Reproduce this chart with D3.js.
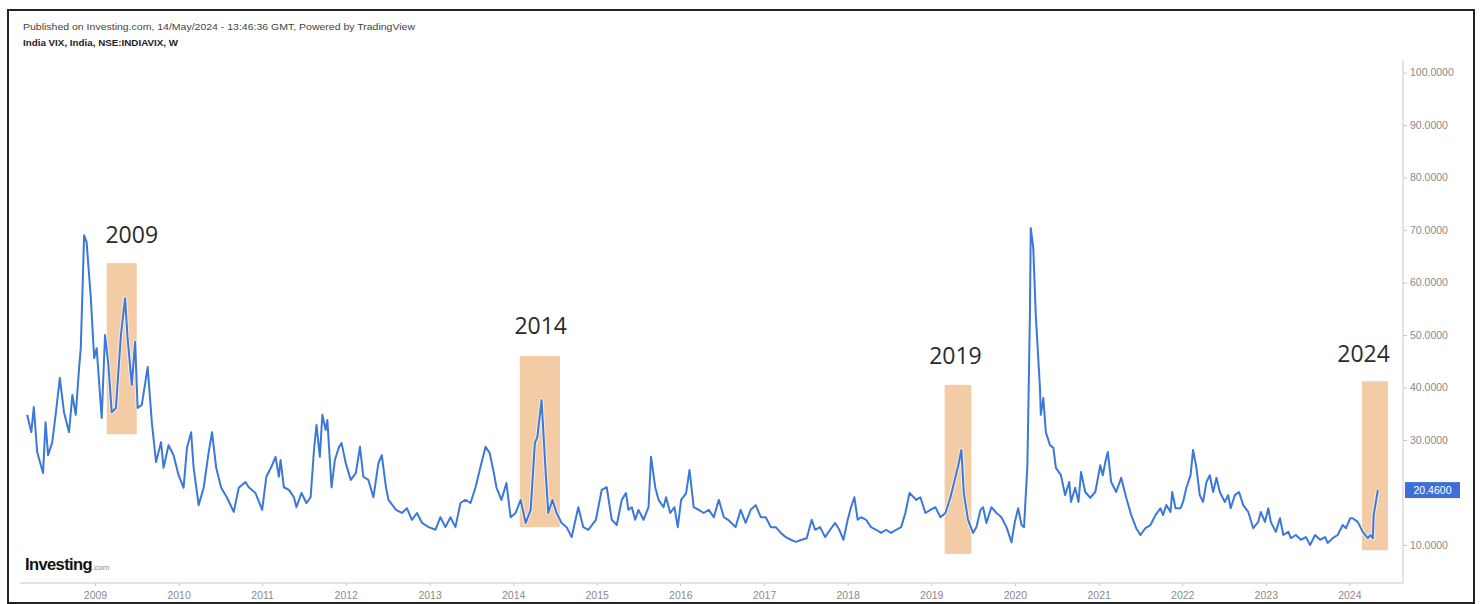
<!DOCTYPE html>
<html>
<head>
<meta charset="utf-8">
<script src="https://cdn.jsdelivr.net/npm/d3@7"></script>
<style>
  html, body { margin: 0; padding: 0; background: #fff; }
  svg { display: block; }
</style>
</head>
<body>
<svg id="chart" width="1480" height="604"></svg>
<script>
// ---------- DATA (weekly India VIX close) ----------
const dates = [
 2008.19,2008.24,2008.27,2008.31,2008.38,2008.41,2008.44,2008.49,2008.53,2008.58,
 2008.63,2008.69,2008.73,2008.77,2008.81,2008.83,2008.87,2008.90,2008.95,2008.99,
 2009.02,2009.08,2009.12,2009.16,2009.20,2009.25,2009.31,2009.36,2009.39,2009.44,
 2009.48,2009.51,2009.56,2009.63,2009.68,2009.73,2009.79,2009.82,2009.88,2009.94,
 2010.00,2010.06,2010.10,2010.15,2010.18,2010.24,2010.30,2010.36,2010.40,2010.45,
 2010.51,2010.58,2010.66,2010.72,2010.80,2010.84,2010.92,
 2011.00,2011.05,2011.11,2011.16,2011.20,2011.22,2011.26,2011.32,2011.38,2011.41,
 2011.47,2011.53,2011.58,2011.62,2011.65,2011.69,2011.72,2011.76,2011.78,2011.83,
 2011.87,2011.92,2011.95,2012.00,2012.06,2012.12,2012.17,2012.21,2012.27,2012.33,
 2012.39,2012.43,2012.48,2012.51,2012.60,2012.67,2012.73,2012.79,2012.85,2012.91,
 2012.99,2013.07,2013.13,2013.19,2013.25,2013.31,2013.37,2013.43,2013.49,2013.55,
 2013.61,2013.67,2013.72,2013.77,2013.80,2013.86,2013.92,2013.97,2014.03,2014.09,
 2014.15,2014.21,2014.26,2014.29,2014.34,2014.39,2014.42,2014.47,2014.52,2014.58,
 2014.64,2014.70,2014.78,2014.84,2014.90,2014.99,2015.06,2015.12,2015.18,2015.24,
 2015.30,2015.35,2015.38,2015.42,2015.46,2015.50,2015.56,2015.62,2015.65,2015.70,
 2015.74,2015.80,2015.83,2015.88,2015.93,2015.97,2016.01,2016.07,2016.11,2016.16,
 2016.22,2016.28,2016.34,2016.40,2016.46,2016.52,2016.57,2016.66,2016.72,2016.78,
 2016.84,2016.90,2016.96,2017.02,2017.08,2017.14,2017.20,2017.26,2017.32,2017.38,
 2017.45,2017.51,2017.57,2017.61,2017.67,2017.73,2017.79,2017.85,2017.90,2017.95,
 2018.00,2018.04,2018.08,2018.12,2018.16,2018.22,2018.28,2018.34,2018.40,2018.46,
 2018.52,2018.58,2018.64,2018.69,2018.74,2018.79,2018.82,2018.87,2018.93,2018.99,
 2019.05,2019.11,2019.17,2019.23,2019.29,2019.32,2019.36,2019.39,2019.44,2019.50,
 2019.54,2019.59,2019.62,2019.66,2019.72,2019.78,2019.84,2019.90,2019.92,2019.96,
 2020.00,2020.04,2020.08,2020.11,2020.15,2020.18,2020.19,2020.22,2020.25,2020.30,
 2020.31,2020.34,2020.37,2020.42,2020.46,2020.49,2020.55,2020.60,2020.65,2020.67,
 2020.72,2020.76,2020.79,2020.84,2020.90,2020.96,2021.02,2021.05,2021.08,2021.11,
 2021.15,2021.21,2021.27,2021.33,2021.39,2021.45,2021.50,2021.56,2021.62,2021.68,
 2021.74,2021.77,2021.81,2021.86,2021.88,2021.92,2021.98,2022.01,2022.05,2022.10,
 2022.13,2022.17,2022.21,2022.25,2022.29,2022.33,2022.37,2022.41,2022.45,2022.51,
 2022.55,2022.58,2022.63,2022.68,2022.73,2022.79,2022.85,2022.91,2022.94,2022.99,
 2023.03,2023.06,2023.12,2023.17,2023.21,2023.27,2023.30,2023.36,2023.42,2023.48,
 2023.53,2023.59,2023.65,2023.71,2023.74,2023.80,2023.86,2023.92,2023.96,2024.01,
 2024.04,2024.10,2024.16,2024.22,2024.25,2024.28,2024.29,2024.34
];
const vix = [
 34.8,31.5,36.3,27.7,23.7,33.4,27.1,29.6,34.8,41.8,
 35.3,31.5,38.6,34.8,43.7,47.5,69.0,67.7,57.0,45.6,
 47.5,34.2,50.0,44.3,35.3,36.1,50.0,57.0,49.4,40.5,
 48.7,36.1,36.7,43.9,33.4,25.8,29.6,24.7,29.0,27.1,
 23.3,20.9,28.5,31.5,24.7,17.6,20.9,27.7,31.5,24.7,
 20.9,19.0,16.3,20.9,22.0,21.0,19.9,
 16.7,23.0,24.9,26.8,23.0,26.2,21.0,20.5,19.1,17.2,
 19.9,18.0,19.1,28.1,32.9,26.8,34.8,31.9,33.8,21.0,
 26.2,28.7,29.4,25.6,22.4,23.7,28.7,23.0,22.4,19.1,
 25.6,27.1,21.0,18.6,16.7,16.1,17.0,14.8,16.1,14.2,
 13.4,12.9,15.3,13.4,15.3,13.4,18.0,18.6,18.0,21.0,
 24.9,28.7,27.5,23.7,21.0,18.6,21.8,15.3,16.1,18.6,
 14.2,16.7,29.4,30.6,37.6,23.7,16.1,18.6,16.1,14.2,
 13.4,11.5,17.2,13.4,12.9,14.8,20.5,21.0,14.8,13.8,
 18.6,19.9,16.7,17.2,14.8,16.7,14.8,17.2,26.8,21.0,
 18.6,17.2,19.1,16.1,17.2,13.4,18.6,19.9,24.3,17.2,
 16.7,16.1,16.7,15.3,18.6,15.3,14.8,13.4,16.7,14.2,
 16.7,17.6,15.3,15.3,13.4,13.4,12.3,11.5,11.0,10.6,
 11.0,11.3,14.8,12.9,13.4,11.5,12.9,14.2,12.9,11.0,
 14.8,17.2,19.1,14.8,15.3,14.8,13.4,12.9,12.3,12.9,
 12.3,12.9,13.4,16.1,19.9,19.1,18.6,19.1,16.1,16.7,
 17.2,15.3,16.1,19.1,23.0,24.9,28.1,19.9,14.8,12.3,
 13.4,16.7,17.2,14.2,17.2,16.1,15.3,13.4,12.5,10.5,
 14.4,17.0,13.8,13.4,25.2,53.8,70.4,66.6,53.8,39.9,
 34.8,38.0,31.5,29.0,28.5,24.7,23.3,19.5,22.0,18.2,
 20.9,18.2,23.9,20.1,19.0,20.1,25.2,23.3,25.8,27.7,
 22.0,20.1,22.8,19.0,15.7,13.2,11.9,13.2,13.8,15.7,
 17.0,15.7,17.6,16.3,20.1,17.0,17.0,18.2,20.9,23.3,
 28.1,24.7,19.5,18.2,22.0,23.3,20.1,22.8,20.1,18.2,
 19.5,17.0,19.5,20.1,17.6,16.3,13.2,14.4,16.3,14.4,
 17.0,14.4,12.5,15.1,11.9,12.5,11.3,11.9,11.0,11.5,
 10.0,11.9,11.0,11.5,10.4,11.3,11.9,13.8,13.2,15.1,
 15.1,14.4,12.5,11.3,11.9,11.3,15.7,20.46
];
const lastValue = 20.46;

// highlighted windows and their labels
const hlNames  = ["2009", "2014", "2019", "2024"];
const hlStart  = [2009.14, 2014.08, 2019.16, 2024.15];
const hlEnd    = [2009.50, 2014.56, 2019.48, 2024.46];
const hlLow    = [31.1, 13.4, 8.3, 9.0];
const hlHigh   = [63.7, 46.0, 40.5, 41.2];
const labelAt  = [2009.44, 2014.33, 2019.29, 2024.17];
const labelVal = [67.5, 50.2, 44.5, 44.9];

const yearTicks = [2009,2010,2011,2012,2013,2014,2015,2016,2017,2018,2019,2020,2021,2022,2023,2024];
// 20.0000 is hidden behind the last-value badge in the reference
const valueTicks = [10,30,40,50,60,70,80,90,100];

const headerLine1 = "Published on Investing.com, 14/May/2024 - 13:46:36 GMT, Powered by TradingView";
const headerLine2 = "India VIX, India, NSE:INDIAVIX, W";

// ---------- helpers ----------
function toDate(y) {
  const yr = Math.floor(y);
  const start = new Date(Date.UTC(yr, 0, 1));
  const end = new Date(Date.UTC(yr + 1, 0, 1));
  return new Date(start.getTime() + (y - yr) * (end - start));
}

const svg = d3.select("#chart");
const W = 1480, H = 604;
const plot = { left: 20, right: 1403, top: 60, bottom: 583 };

const x = d3.scaleUtc()
  .domain([toDate(2008.105), toDate(2024.64)])
  .range([plot.left, plot.right]);
const y = d3.scaleLinear()
  .domain([2.76, 102.4])
  .range([plot.bottom, plot.top]);

const series = dates.map((d, i) => ({ date: toDate(d), v: vix[i] }));

svg.append("rect").attr("x", 0).attr("y", 0).attr("width", W).attr("height", H).attr("fill", "#fff");

// highlight boxes
const hl = hlNames.map((n, i) => ({ n, s: toDate(hlStart[i]), e: toDate(hlEnd[i]), lo: hlLow[i], hi: hlHigh[i], la: toDate(labelAt[i]), lv: labelVal[i] }));
svg.append("g").selectAll("rect").data(hl).join("rect")
  .attr("x", d => x(d.s))
  .attr("width", d => x(d.e) - x(d.s))
  .attr("y", d => y(d.hi))
  .attr("height", d => y(d.lo) - y(d.hi))
  .attr("fill", "#f2c9a1")
  .attr("opacity", 0.95);

// line
const line = d3.line().x(d => x(d.date)).y(d => y(d.v)).curve(d3.curveLinear);
svg.append("path").datum(series)
  .attr("d", line)
  .attr("fill", "none")
  .attr("stroke", "#ffffff")
  .attr("stroke-width", 4)
  .attr("stroke-opacity", 0.6)
  .attr("stroke-linejoin", "round");
svg.append("path").datum(series)
  .attr("d", line)
  .attr("fill", "none")
  .attr("stroke", "#3b78d9")
  .attr("stroke-width", 2)
  .attr("stroke-linejoin", "round");

// annotation labels
svg.append("g").selectAll("text").data(hl).join("text")
  .attr("x", d => x(d.la))
  .attr("y", d => y(d.lv))
  .attr("text-anchor", "middle")
  .attr("font-family", "'Open Sans', 'DejaVu Sans', sans-serif")
  .attr("font-size", 23)
  .attr("fill", "#2b2b2b")
  .text(d => d.n);

// right axis
const yAxis = d3.axisRight(y).tickValues(valueTicks).tickFormat(d3.format(".4f")).tickSize(4).tickPadding(3);
const gy = svg.append("g").attr("transform", `translate(${plot.right},0)`).call(yAxis);
gy.select(".domain").attr("stroke", "#c8c8c8").attr("d", `M0,${plot.top}V${plot.bottom}`);
gy.selectAll(".tick line").attr("stroke", "#c8c8c8");
gy.selectAll(".tick text").attr("fill", "#8a8a8a").attr("font-family", "'Liberation Sans', Arial, sans-serif").attr("font-size", 10.5);

// bottom axis
const xAxis = d3.axisBottom(x).tickValues(yearTicks.map(t => toDate(t))).tickFormat(d3.utcFormat("%Y")).tickSize(3).tickPadding(6);
const gx = svg.append("g").attr("transform", `translate(0,${plot.bottom})`).call(xAxis);
gx.select(".domain").attr("stroke", "#c8c8c8").attr("d", `M${plot.left},0H${plot.right}`);
gx.selectAll(".tick line").attr("stroke", "#c8c8c8");
gx.selectAll(".tick text").attr("fill", "#8a8a8a").attr("font-family", "'Liberation Sans', Arial, sans-serif").attr("font-size", 10.5);

// last value badge
const by = y(lastValue);
svg.append("rect").attr("x", plot.right + 2).attr("y", by - 8).attr("width", 55).attr("height", 16).attr("fill", "#3d6fd6");
svg.append("text").attr("x", plot.right + 29.5).attr("y", by + 4).attr("text-anchor", "middle")
  .attr("fill", "#fff").attr("font-family", "'Liberation Sans', Arial, sans-serif").attr("font-size", 10.5)
  .text(d3.format(".4f")(lastValue));

// header
svg.append("text").attr("x", 23).attr("y", 30)
  .attr("font-family", "'Liberation Sans', Arial, sans-serif").attr("font-size", 9.5).attr("fill", "#444")
  .attr("textLength", 392).attr("lengthAdjust", "spacingAndGlyphs")
  .text(headerLine1);
svg.append("text").attr("x", 23).attr("y", 46)
  .attr("font-family", "'Liberation Sans', Arial, sans-serif").attr("font-size", 9).attr("font-weight", "bold").attr("fill", "#222")
  .attr("textLength", 155).attr("lengthAdjust", "spacingAndGlyphs")
  .text(headerLine2);

// logo
const logo = svg.append("text").attr("x", 25).attr("y", 570)
  .attr("font-family", "'Liberation Sans', Arial, sans-serif").attr("fill", "#111");
logo.append("tspan").attr("font-size", 16.5).attr("font-weight", "bold").attr("letter-spacing", -0.6).text("Investing");
logo.append("tspan").attr("font-size", 8).attr("fill", "#888").text(".com");

// outer frame
svg.append("rect").attr("x", 8).attr("y", 10).attr("width", 1466).attr("height", 593)
  .attr("fill", "none").attr("stroke", "#222").attr("stroke-width", 2);
</script>
</body>
</html>
